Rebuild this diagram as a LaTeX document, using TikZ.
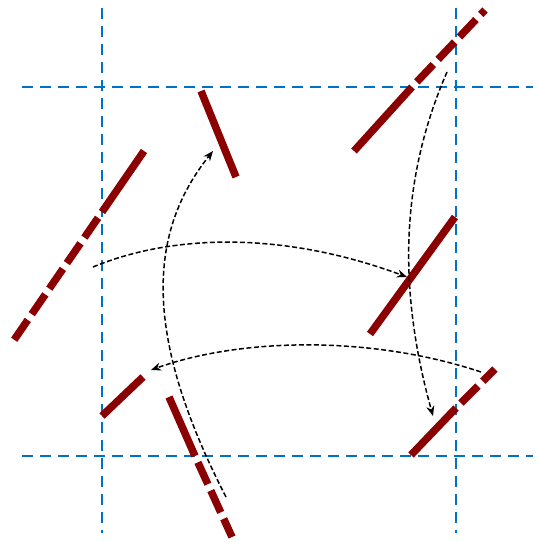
\documentclass[tikz,border=0pt]{standalone}
\usepackage{xcolor}
\usepackage{tikz}
\usetikzlibrary{arrows.meta}

\definecolor{cellblue}{RGB}{0,114,198}
\definecolor{roddark}{RGB}{139,0,0}

\begin{document}
\begin{tikzpicture}[
    x=1pt, y=-1pt,
    cell/.style={
        draw=cellblue,
        line width=2.6pt,
        dash pattern=on 11pt off 7pt
    },
    rod/.style={
        draw=roddark,
        line width=7.5pt
    },
    ghost/.style={
        rod,
        dash pattern=on 24pt off 7pt,
        dash phase=24pt
    },
    hop/.style={
        -{Stealth[length=10pt, width=8pt]},
        line width=1.5pt,
        dash pattern=on 5pt off 2.5pt
    }
]

\useasboundingbox (0,0) rectangle (540,542);

% cell boundaries
\draw[cell] (22,87) -- (533,87);
\draw[cell] (22,456) -- (533,456);
\draw[cell] (102,8) -- (102,533);
\draw[cell] (456,8) -- (456,533);

% rods inside the cell
\draw[rod] (201,91) -- (236,177);
\draw[rod] (370,334) -- (455,217);
\draw[rod] (102,416) -- (143,377);

% rods crossing the boundary
\coordinate (leftIn) at (144,151);
\coordinate (leftCut) at (102,212);
\coordinate (leftOut) at (14,340);
\draw[rod] (leftIn) -- (leftCut);
\draw[ghost] (leftCut) -- (leftOut);

\coordinate (topIn) at (354,151);
\coordinate (topCut) at (412,87);
\coordinate (topOut) at (485,10);
\draw[rod] (topIn) -- (topCut);
\draw[ghost] (topCut) -- (topOut);

\coordinate (cornerIn) at (411,455);
\coordinate (cornerCut) at (456,408);
\coordinate (cornerOut) at (495,369);
\draw[rod] (cornerIn) -- (cornerCut);
\draw[ghost] (cornerCut) -- (cornerOut);

\coordinate (lowIn) at (169,397);
\coordinate (lowCut) at (195,456);
\coordinate (lowOut) at (232,537);
\draw[rod] (lowIn) -- (lowCut);
\draw[ghost] (lowCut) -- (lowOut);

% moves
\coordinate (upFrom) at (226,497);
\coordinate (upTo) at (213,151);
\coordinate (rightFrom) at (93,267);
\coordinate (rightTo) at (407,277);
\coordinate (downFrom) at (447,72);
\coordinate (downTo) at (433,416);
\coordinate (leftFrom) at (481,372);
\coordinate (leftTo) at (151,370);

\draw[hop] (upFrom) .. controls (140,330) and (150,230) .. (upTo);
\draw[hop] (rightFrom) .. controls (170,235) and (280,230) .. (rightTo);
\draw[hop] (downFrom) .. controls (400,180) and (398,290) .. (downTo);
\draw[hop] (leftFrom) .. controls (370,335) and (240,338) .. (leftTo);

\end{tikzpicture}
\end{document}
